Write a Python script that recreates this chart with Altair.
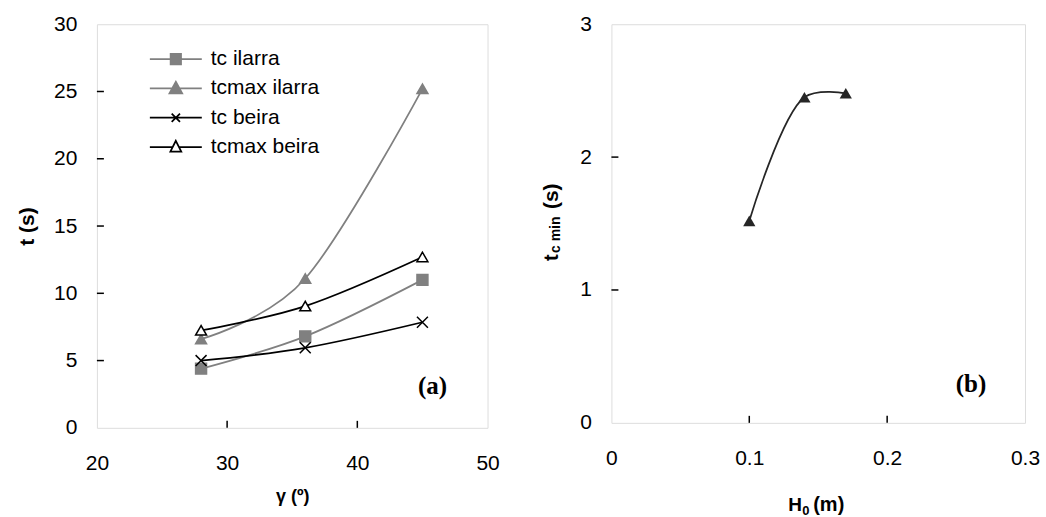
import altair as alt
import pandas as pd

# ---------------- data ----------------
gamma = [28, 36, 45]
series_names = ["tc ilarra", "tcmax ilarra", "tc beira", "tcmax beira"]
tc_ilarra = [4.4, 6.8, 11.0]
tcmax_ilarra = [6.6, 11.1, 25.2]
tc_beira = [5.0, 5.95, 7.85]
tcmax_beira = [7.25, 9.05, 12.7]

H0 = [0.10, 0.14, 0.17]
tc_min = [1.52, 2.45, 2.48]

left_x_ticks = [20, 30, 40, 50]
left_y_ticks = [0, 5, 10, 15, 20, 25, 30]
left_x_inner = [30, 40]
left_y_inner = [5, 10, 15, 20, 25]
right_x_ticks = [0, 0.1, 0.2, 0.3]
right_y_ticks = [0, 1, 2, 3]
right_x_inner = [0.1, 0.2]
right_y_inner = [1, 2]

# ---------------- styles ----------------
FONT = "Liberation Sans"
GRAY = "#808080"
DARK = "#262626"
line_colors = [GRAY, GRAY, "#000000", "#000000"]
shapes = ["square", "triangle-up", "M-1,-1L1,1M-1,1L1,-1", "triangle-up"]
fills = [GRAY, GRAY, "transparent", "#ffffff"]
strokes = [GRAY, GRAY, "#000000", "#000000"]
# legend symbols: a line stub with the marker in its middle (unit box -1..1)
legend_shapes = [
    "M-1,0H1M-0.2,-0.2H0.2V0.2H-0.2Z",
    "M-1,0H1M0,-0.26L0.245,0.19H-0.245Z",
    "M-1,0H1M-0.16,-0.16L0.16,0.16M-0.16,0.16L0.16,-0.16",
    "M-1,0H-0.12M0.12,0H1M0,-0.24L0.21,0.18H-0.21Z",
]

rows = []
for name, vals in zip(series_names, [tc_ilarra, tcmax_ilarra, tc_beira, tcmax_beira]):
    for g, v in zip(gamma, vals):
        rows.append({"gamma": g, "t": v, "series": name})
df_a = pd.DataFrame(rows)
df_b = pd.DataFrame({"H0": H0, "tc": tc_min})
df_leg = pd.DataFrame({"series": series_names})

W1, H1 = 391, 404
W2, H2 = 414, 399

# ---------------- left panel ----------------
xs1 = alt.Scale(domain=[20, 50], nice=False, zero=False)
ys1 = alt.Scale(domain=[0, 30], nice=False)
xax1 = alt.Axis(values=left_x_ticks, ticks=False, tickSize=0, domain=False, grid=False,
                labelFont=FONT, labelFontSize=21, labelColor="black", labelPadding=25,
                title="γ (º)", titleFont=FONT, titleFontSize=18, titleFontWeight="bold",
                titleColor="black", titlePadding=14, labelFlush=False)
yax1 = alt.Axis(values=left_y_ticks, ticks=False, tickSize=0, domain=False, grid=False,
                labelFont=FONT, labelFontSize=21, labelColor="black", labelPadding=20,
                title="t (s)", titleFont=FONT, titleFontSize=21, titleFontWeight="bold",
                titleColor="black", titlePadding=16, labelFlush=False)

lines_a = alt.Chart(df_a).mark_line(interpolate="cardinal", tension=0, strokeWidth=1.75).encode(
    x=alt.X("gamma:Q", scale=xs1, axis=xax1),
    y=alt.Y("t:Q", scale=ys1, axis=yax1),
    color=alt.Color("series:N", scale=alt.Scale(domain=series_names, range=line_colors),
                    legend=None),
)

points_a = alt.Chart(df_a).mark_point(size=120, strokeWidth=1.5, opacity=1).encode(
    x=alt.X("gamma:Q", scale=xs1),
    y=alt.Y("t:Q", scale=ys1),
    shape=alt.Shape("series:N", scale=alt.Scale(domain=series_names, range=shapes), legend=None),
    fill=alt.Fill("series:N", scale=alt.Scale(domain=series_names, range=fills), legend=None),
    stroke=alt.Stroke("series:N", scale=alt.Scale(domain=series_names, range=strokes), legend=None),
)

leg = alt.Legend(orient="none", legendX=52, legendY=24, title=None, padding=0,
                 labelFont=FONT, labelFontSize=21, labelColor="black", labelOffset=8,
                 clipHeight=22, rowPadding=7.3, symbolSize=2704, symbolStrokeWidth=1.75)
legend_layer = alt.Chart(df_leg).transform_filter("false").mark_point(
    opacity=1, strokeWidth=1.75).encode(
    shape=alt.Shape("series:N", scale=alt.Scale(domain=series_names, range=legend_shapes), legend=leg),
    fill=alt.Fill("series:N", scale=alt.Scale(domain=series_names, range=fills), legend=leg),
    stroke=alt.Stroke("series:N", scale=alt.Scale(domain=series_names, range=strokes), legend=leg),
)

xt_a = alt.Chart(pd.DataFrame({"v": left_x_inner})).mark_tick(
    orient="vertical", size=7, thickness=1.5, color="black", opacity=1).encode(
    x=alt.X("v:Q", scale=xs1), y=alt.value(H1 - 3.5))
yt_a = alt.Chart(pd.DataFrame({"v": left_y_inner})).mark_tick(
    orient="horizontal", size=7, thickness=1.5, color="black", opacity=1).encode(
    y=alt.Y("v:Q", scale=ys1), x=alt.value(3.5))

lab_a = alt.Chart(pd.DataFrame({"lab": ["(a)"]})).mark_text(
    font="Liberation Serif", fontSize=25, fontWeight="bold", color="black",
    align="center", baseline="middle").encode(
    text="lab:N", x=alt.value(336), y=alt.value(362))

left = alt.layer(lines_a, points_a, legend_layer, xt_a, yt_a, lab_a).resolve_scale(
    shape="independent", fill="independent", stroke="independent"
).properties(width=W1, height=H1)

# ---------------- right panel ----------------
xs2 = alt.Scale(domain=[0, 0.3], nice=False)
ys2 = alt.Scale(domain=[0, 3], nice=False)
xax2 = alt.Axis(values=right_x_ticks, ticks=False, tickSize=0, domain=False, grid=False,
                labelFont=FONT, labelFontSize=21, labelColor="black", labelPadding=25,
                title=None, labelFlush=False, format="~g")
yax2 = alt.Axis(values=right_y_ticks, ticks=False, tickSize=0, domain=False, grid=False,
                labelFont=FONT, labelFontSize=21, labelColor="black", labelPadding=20,
                title=None, labelFlush=False, format="~g")

line_b = alt.Chart(df_b).mark_line(interpolate="catmull-rom", strokeWidth=1.75,
                                   color=DARK).encode(
    x=alt.X("H0:Q", scale=xs2, axis=xax2),
    y=alt.Y("tc:Q", scale=ys2, axis=yax2),
)
pts_b = alt.Chart(df_b).mark_point(shape="triangle-up", size=150, filled=True,
                                   color=DARK, opacity=1).encode(
    x=alt.X("H0:Q", scale=xs2),
    y=alt.Y("tc:Q", scale=ys2),
)
xt_b = alt.Chart(pd.DataFrame({"v": right_x_inner})).mark_tick(
    orient="vertical", size=7, thickness=1.5, color="black", opacity=1).encode(
    x=alt.X("v:Q", scale=xs2), y=alt.value(H2 - 3.5))
yt_b = alt.Chart(pd.DataFrame({"v": right_y_inner})).mark_tick(
    orient="horizontal", size=7, thickness=1.5, color="black", opacity=1).encode(
    y=alt.Y("v:Q", scale=ys2), x=alt.value(3.5))

lab_b = alt.Chart(pd.DataFrame({"lab": ["(b)"]})).mark_text(
    font="Liberation Serif", fontSize=25, fontWeight="bold", color="black",
    align="center", baseline="middle").encode(
    text="lab:N", x=alt.value(360), y=alt.value(360))


def piece(txt, size, x, y, angle=0):
    return alt.Chart(pd.DataFrame({"lab": [txt]})).mark_text(
        font=FONT, fontSize=size, fontWeight="bold", color="black",
        align="left", baseline="alphabetic", angle=angle).encode(
        text="lab:N", x=alt.value(x), y=alt.value(y))


# x title  H0 (m)
xt1 = piece("H", 19, 177, 487)
xt2 = piece("0", 13, 191, 491)
xt3 = piece("(m)", 20, 202, 487)
# y title  t_c min (s)  (rotated)
yt1 = piece("t", 20, -53, 237, angle=270)
yt2 = piece("c min", 14, -51, 229, angle=270)
yt3 = piece("(s)", 21, -53, 185, angle=270)

right = alt.layer(line_b, pts_b, xt_b, yt_b, lab_b, xt1, xt2, xt3, yt1, yt2, yt3).properties(
    width=W2, height=H2)

chart = alt.hconcat(left, right, spacing=40).properties(
    padding={"left": 16, "top": 12, "right": 5, "bottom": 5}
).configure_view(stroke="black", strokeWidth=2).configure(background="white")

chart.save("out.html", embed_options={"renderer": "svg", "actions": False})
